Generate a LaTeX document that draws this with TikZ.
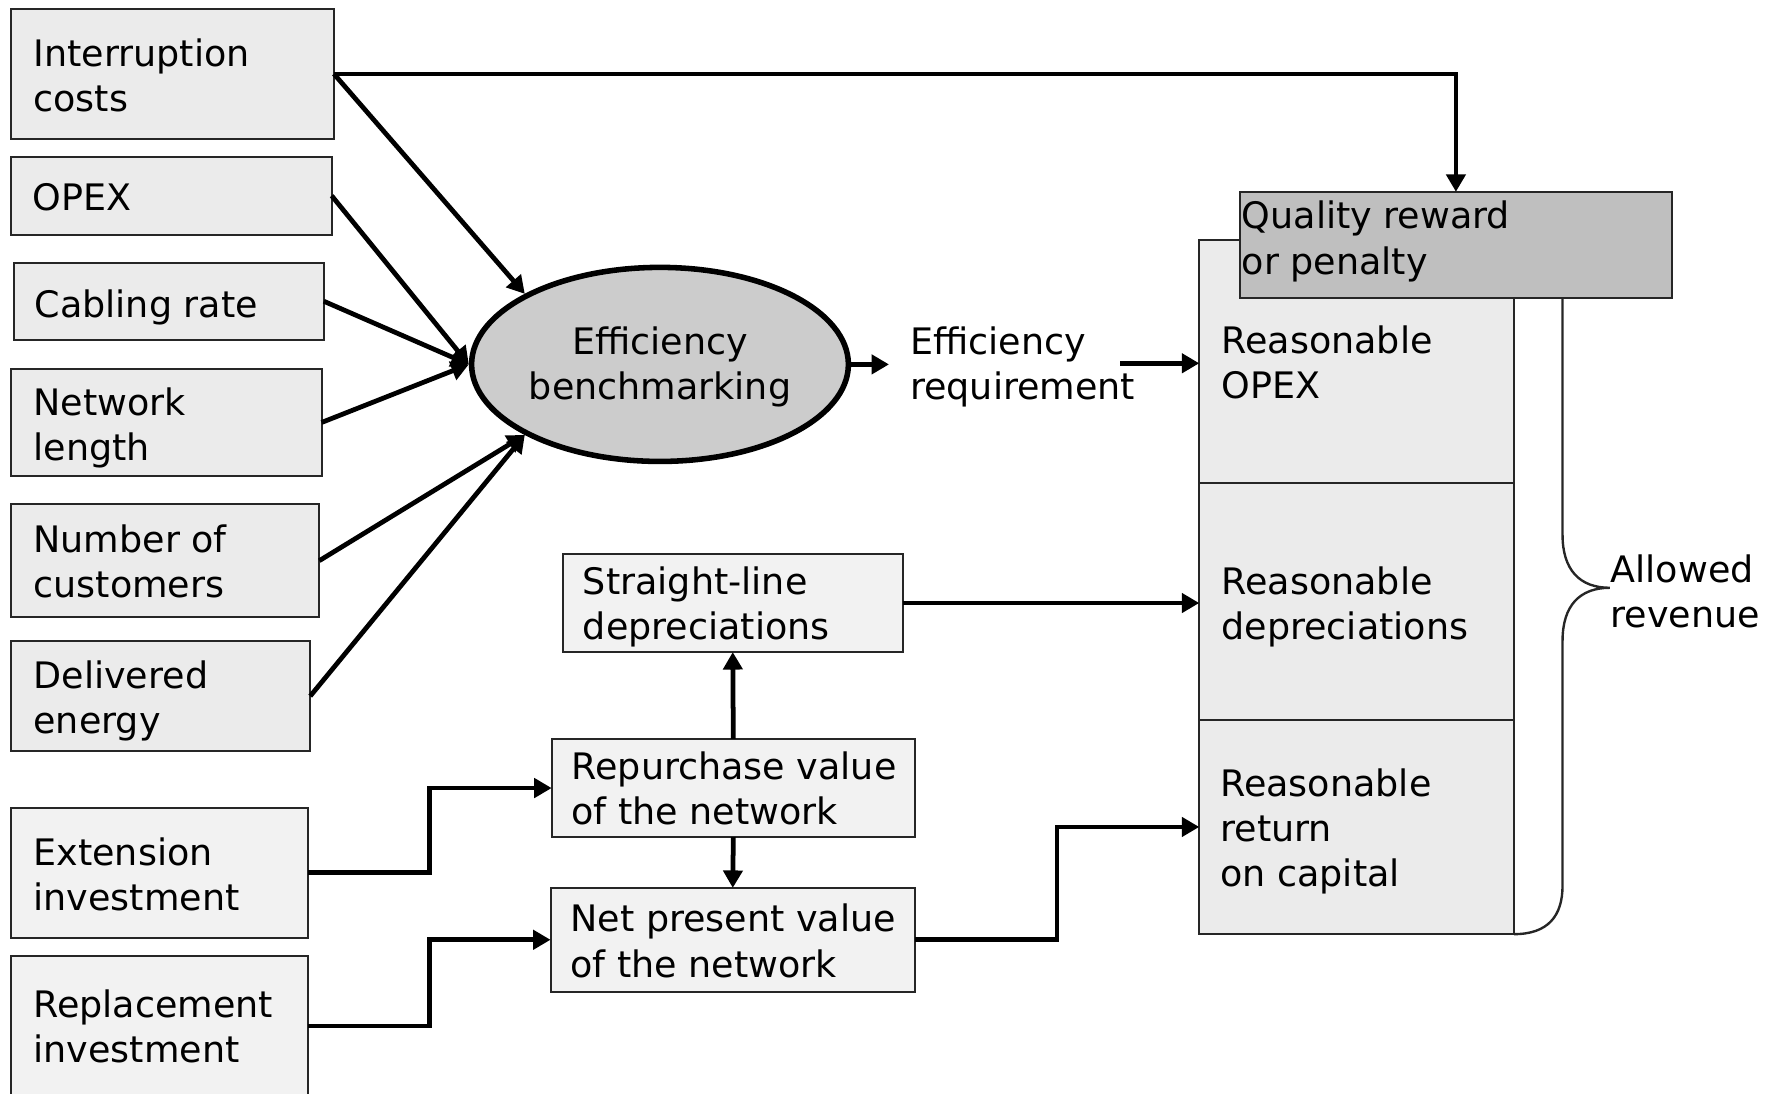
\documentclass[tikz,border=0pt]{standalone}
\usepackage{fontspec}
\setmainfont{DejaVu Sans}
\usetikzlibrary{arrows.meta,shapes.geometric,fit}

\begin{document}
\begin{tikzpicture}[x=0.1mm,y=-0.1mm,
  box/.style={draw=black!85, line width=0.5pt, inner sep=0pt, outer sep=0pt},
  inbox/.style={box, fill=black!8},
  valbox/.style={box, fill=black!5},
  stackbox/.style={box, fill=black!8},
  qbox/.style={box, fill=black!25},
  % text blocks are placed by the baseline of their last line
  txt/.style={anchor=base west, align=left, inner sep=0pt,
    font=\fontsize{9.2}{11.4}\selectfont},
  ctxt/.style={txt, anchor=base, align=center},
  arr/.style={line width=1.2pt, -{Triangle[length=4.4pt,width=4.8pt]}},
  brace/.style={line width=0.6pt, black!85}
]
\useasboundingbox (0,0) rectangle (1568,969);

% --- input quantities on the left
\node[inbox, fit={(10,8) (296,123)}] (intr) {};
\node[txt] (intr-t) at (29,99) {Interruption\\costs};
\node[inbox, fit={(10,139) (294,208)}] (opex) {};
\node[txt] (opex-t) at (28,187) {OPEX};
\node[inbox, fit={(12,233) (287,301)}] (cab) {};
\node[txt] (cab-t) at (30,281) {Cabling rate};
\node[inbox, fit={(10,327) (285,422)}] (netl) {};
\node[txt] (netl-t) at (29,408) {Network\\length};
\node[inbox, fit={(10,447) (283,547)}] (cust) {};
\node[txt] (cust-t) at (29,530) {Number of\\customers};
\node[inbox, fit={(10,568) (275,666)}] (energy) {};
\node[txt] (energy-t) at (29,650) {Delivered\\energy};
\node[valbox, fit={(10,716) (273,831)}] (ext) {};
\node[txt] (ext-t) at (29,807) {Extension\\investment};
\node[valbox, fit={(10,847) (273,972)}] (repl) {};
\node[txt] (repl-t) at (29,942) {Replacement\\investment};

% --- benchmarking
\node[ellipse, draw=black, line width=1.4pt, fill=black!20,
      minimum width=33.4mm, minimum height=17.2mm, inner sep=0pt] (eb) at (585,323) {};
\node[ctxt] (eb-t) at (585,354) {Efficiency\\benchmarking};
\node[txt] (req) at (806,354) {Efficiency\\requirement};
\coordinate (req-in) at (788,323);
\coordinate (req-out) at (993,322);

% --- network value chain
\node[valbox, fit={(499,491) (800,578)}] (sld) {};
\node[txt] (sld-t) at (516,567) {Straight-line\\depreciations};
\node[valbox, fit={(489,655) (811,742)}] (rep) {};
\node[txt] (rep-t) at (506,731) {Repurchase value\\of the network};
\node[valbox, fit={(488,787) (811,879)}] (npv) {};
\node[txt] (npv-t) at (505,866) {Net present value\\of the network};

% --- allowed revenue stack
\node[stackbox, fit={(1063,213) (1342,428)}] (ropex) {};
\node[txt] (ropex-t) at (1082,353) {Reasonable\\OPEX};
\node[stackbox, fit={(1063,428) (1342,638)}] (rdep) {};
\node[txt] (rdep-t) at (1082,567) {Reasonable\\depreciations};
\node[stackbox, fit={(1063,638) (1342,828)}] (rret) {};
\node[txt] (rret-t) at (1081,786) {Reasonable\\return\\on capital};
\node[qbox, fit={(1099,170) (1482,264)}] (qual) {};
\node[txt] (qual-t) at (1100,243) {Quality reward\\or penalty};

% --- brace
\coordinate (br-top) at (1385,264);
\coordinate (br-a) at (1385,474);
\coordinate (br-tip) at (1427,521);
\coordinate (br-b) at (1385,568);
\coordinate (br-c) at (1385,785);
\draw[brace] (qual.south -| br-top) -- (br-a)
  .. controls (1385,505) and (1400,521) .. (br-tip)
  .. controls (1400,521) and (1385,537) .. (br-b)
  -- (br-c)
  .. controls (1385,812) and (1372,828) .. (rret.south east);
\node[txt] (allowed) at (1427,556) {Allowed\\revenue};

% --- connectors
\draw[arr] (intr.east) -- (eb.north west);
\draw[arr] (opex.east) -- (eb.west);
\draw[arr] (cab.east) -- (eb.west);
\draw[arr] (netl.east) -- (eb.west);
\draw[arr] (cust.east) -- (eb.south west);
\draw[arr] (energy.east) -- (eb.south west);
\draw[arr] (intr.east) -| (qual.north);
\draw[arr] (eb.east) -- (req-in);
\draw[arr] (req-out) -- (req-out -| ropex.west);
\draw[arr] (sld.east) -- (sld.east -| rdep.west);
\draw[arr] (rep.north) -- (sld.south);
\draw[arr] (rep.south) -- (npv.north);
\draw[arr] (ext.east) -- ++(108,0) |- (rep.west);
\draw[arr] (repl.east) -- ++(108,0) |- (npv.west);
\draw[arr] (npv.east) -- ++(126,0) |- (rret.west);
\end{tikzpicture}
\end{document}
